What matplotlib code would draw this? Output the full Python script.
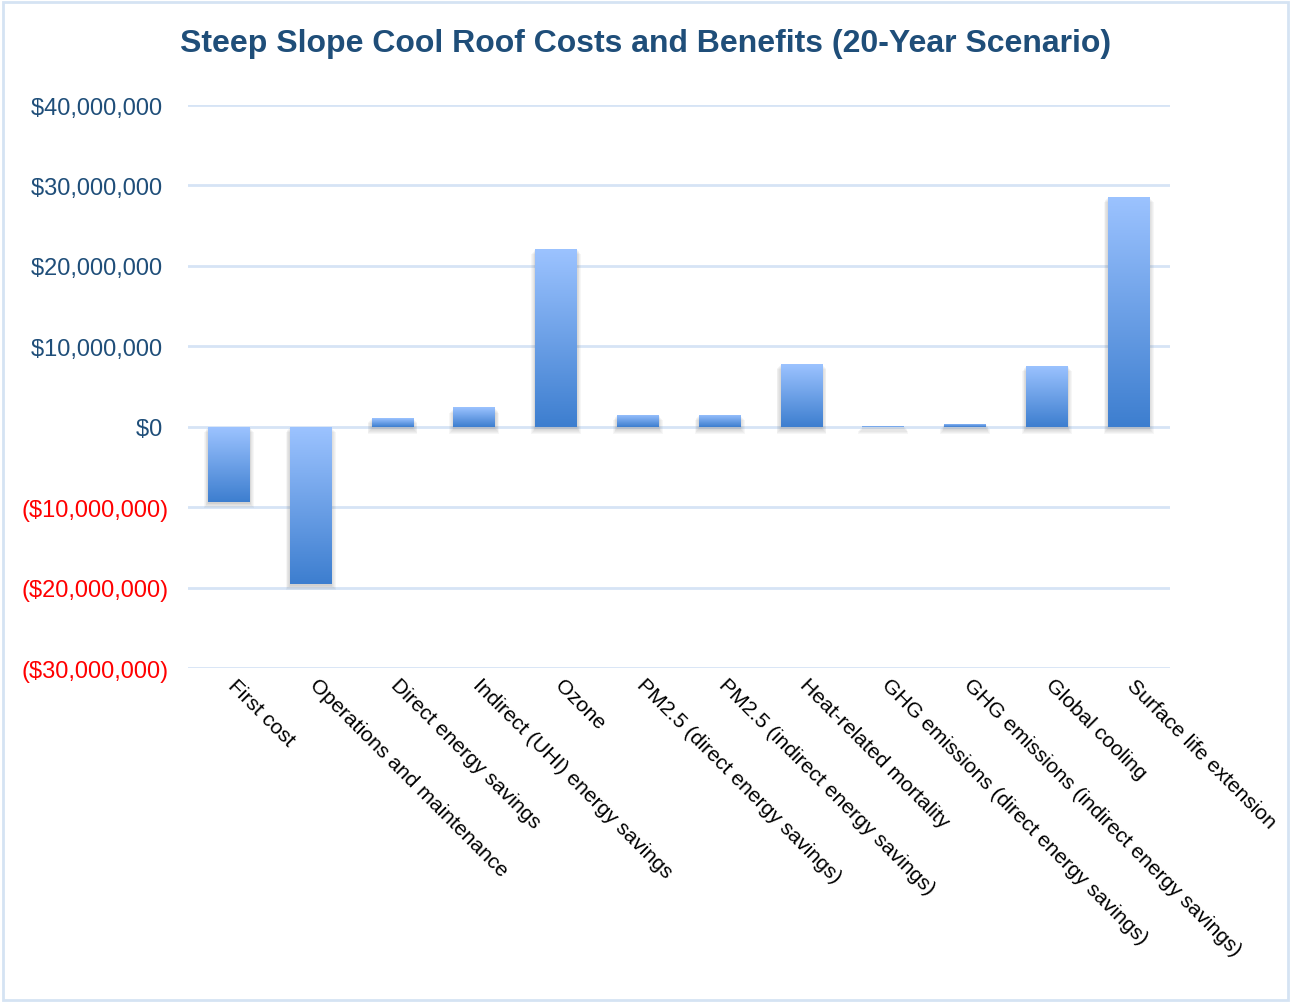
import numpy as np
import matplotlib.pyplot as plt
import matplotlib.transforms as mtrans
from matplotlib.patches import Rectangle
from matplotlib.colors import LinearSegmentedColormap

plt.rcParams['font.family'] = ['Liberation Sans', 'DejaVu Sans']

categories = ['First cost', 'Operations and maintenance', 'Direct energy savings',
              'Indirect (UHI) energy savings', 'Ozone', 'PM2.5 (direct energy savings)',
              'PM2.5 (indirect energy savings)', 'Heat-related mortality',
              'GHG emissions (direct energy savings)', 'GHG emissions (indirect energy savings)',
              'Global cooling', 'Surface life extension']
values = [-9.3e6, -19.5e6, 1.1e6, 2.4e6, 22.1e6, 1.5e6, 1.5e6, 7.8e6, 0.1e6, 0.4e6, 7.6e6, 28.6e6]
yticks = [-30e6, -20e6, -10e6, 0, 10e6, 20e6, 30e6, 40e6]

def money(v):
    if v < 0:
        return '(${:,.0f})'.format(-v)
    return '${:,.0f} '.format(v)

fig = plt.figure(figsize=(12.91, 10.03), dpi=100)
ax = fig.add_axes([0.1456, 0.333, 0.906 - 0.1456, 0.8943 - 0.333])

# light frame round the chart
fig.patches.append(Rectangle((0.002, 0.002), 0.996, 0.995, transform=fig.transFigure,
                             fill=False, edgecolor='#D5E3F3', linewidth=2))

x = np.arange(len(categories))
w = 0.51
cmap = LinearSegmentedColormap.from_list('bar', ['#3D7ECF', '#9CC3FF'])
grad = np.linspace(0, 1, 256).reshape(-1, 1)

for xi, v in zip(x, values):
    lo, hi = min(0, v), max(0, v)
    # soft shadow under each bar
    for k in range(6):
        ax.add_patch(Rectangle((xi - w / 2 - 0.01 * k, lo - 0.25e6 - 0.12e6 * k),
                               w + 0.02 * k, hi - lo + 0.2e6,
                               facecolor='#606060', alpha=0.05, edgecolor='none', zorder=2))

bars = ax.bar(x, values, width=w, color='none', edgecolor='none', zorder=3)
for b in bars:
    x0, y0 = b.get_x(), b.get_y()
    x1, y1 = x0 + b.get_width(), y0 + b.get_height()
    im = ax.imshow(grad, cmap=cmap, origin='lower', aspect='auto',
                   extent=(x0, x1, min(y0, y1), max(y0, y1)), zorder=3)
    im.set_clip_path(b)

ax.set_xlim(-0.5, len(categories) - 0.5)
ax.set_ylim(-30e6, 40e6)
ax.set_yticks(yticks)
ax.set_yticklabels([money(v) for v in yticks], fontsize=17)
for lab, v in zip(ax.get_yticklabels(), yticks):
    lab.set_color('#FF0000' if v < 0 else '#1F4E79')
ax.tick_params(axis='y', length=0, pad=14)
ax.grid(axis='y', color='#D6E4F5', linewidth=2, zorder=0)
ax.set_axisbelow(True)
for s in ax.spines.values():
    s.set_visible(False)

ax.set_xticks(x)
ax.set_xticklabels(categories, rotation=-45, ha='left', va='top',
                   rotation_mode='anchor', fontsize=15.2)
ax.tick_params(axis='x', length=0, pad=5)
shift = mtrans.ScaledTranslation(6 / 72, 0, fig.dpi_scale_trans)
for lab in ax.get_xticklabels():
    lab.set_transform(lab.get_transform() + shift)

fig.text(0.5, 0.956, 'Steep Slope Cool Roof Costs and Benefits (20-Year Scenario)',
         ha='center', va='center', fontsize=23, fontweight='bold', color='#1F4E79')

fig.savefig('out.png', dpi=100)
